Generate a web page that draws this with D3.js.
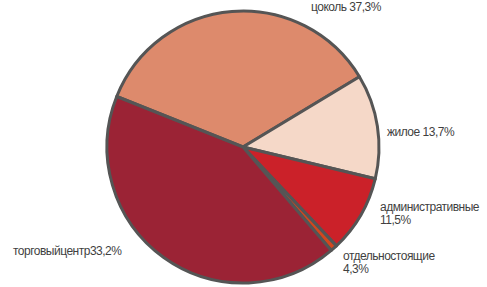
<!DOCTYPE html>
<html lang="ru">
<head>
    <meta charset="UTF-8">
    <title>Pie</title>
    <script src="https://d3js.org/d3.v7.min.js"></script>
    <style>
        body { margin: 0; background: #fff; }
        .lbl { font-family: "Liberation Sans Narrow", "Arial Narrow", "Liberation Sans", sans-serif; font-size: 12px; letter-spacing: -0.5px; fill: #3f3f3f; }
    </style>
</head>
<body>
    <svg id="svg"></svg>
    <script>
        // categories and label texts as printed on the chart
        const categories = ['цоколь', 'жилое', 'административные', 'отдельностоящие', 'торговыйцентр'];
        const labelLines = [
            ['цоколь 37,3%'],
            ['жилое 13,7%'],
            ['административные', '11,5%'],
            ['отдельностоящие', '4,3%'],
            ['торговыйцентр33,2%']
        ];
        // slice shares as drawn in the picture
        const shares = [35.3, 12.4, 9.2, 0.8, 42.3];
        const colors = ['#dd8a6c', '#f5d8c8', '#cb2129', '#d4461e', '#9b2335'];

        const width = 487, height = 287;
        const cx = 243, cy = 147, r = 136;

        const svg = d3.select('#svg')
            .attr('width', width)
            .attr('height', height);

        const start = -68.2 * Math.PI / 180;
        const pie = d3.pie()
            .sort(null)
            .value(d => d)
            .startAngle(start)
            .endAngle(start + 2 * Math.PI);
        const arc = d3.arc().innerRadius(0).outerRadius(r);

        const g = svg.append('g').attr('transform', 'translate(' + cx + ',' + cy + ')');
        g.selectAll('path')
            .data(pie(shares))
            .enter()
            .append('path')
            .attr('d', arc)
            .attr('fill', (d, i) => colors[i])
            .attr('stroke', '#555555')
            .attr('stroke-width', 3)
            .attr('stroke-linejoin', 'round');

        // label anchor points (left baseline of first line)
        const labelPos = [[311, 11], [387, 136], [380, 211], [343, 260], [13, 255]];
        labelLines.forEach((lines, i) => {
            const t = svg.append('text')
                .attr('class', 'lbl')
                .attr('x', labelPos[i][0])
                .attr('y', labelPos[i][1]);
            lines.forEach((s, j) => {
                t.append('tspan')
                    .attr('x', labelPos[i][0])
                    .attr('dy', j === 0 ? 0 : 13)
                    .text(s);
            });
        });
    </script>
</body>
</html>
